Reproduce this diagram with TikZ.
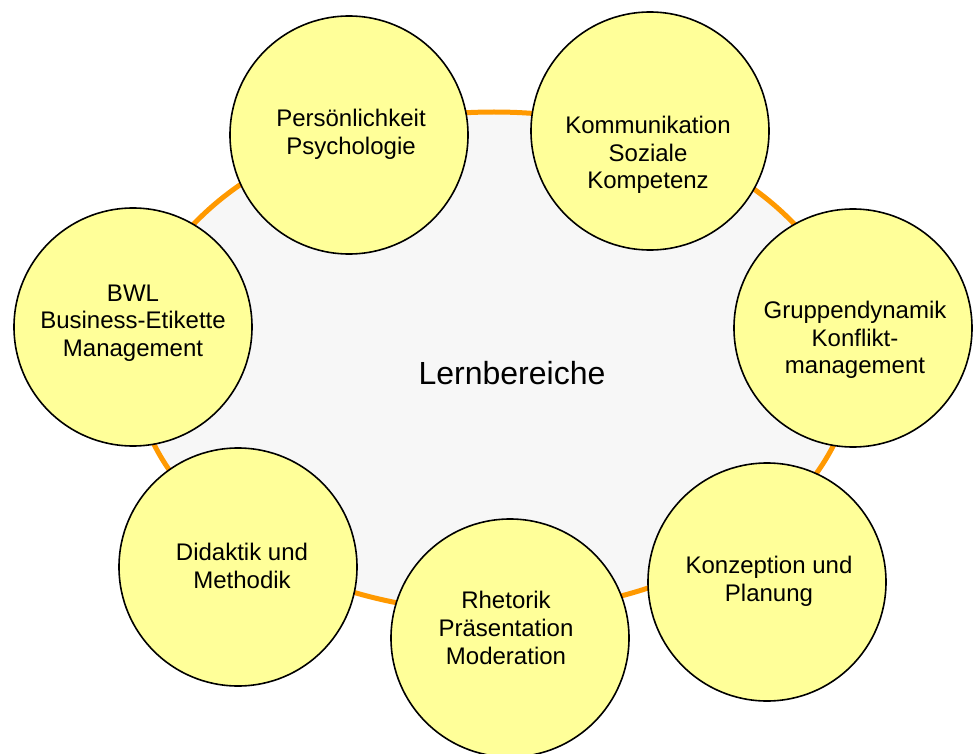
\documentclass[tikz,border=0pt]{standalone}
\usepackage{fontspec}
\setmainfont{Liberation Sans}
\usetikzlibrary{shapes.geometric}
\definecolor{ringorange}{HTML}{FF9900}
\definecolor{areafill}{HTML}{F7F7F7}
\definecolor{bubblefill}{HTML}{FFFF99}
\tikzset{
  bubble/.style={circle, draw=black, line width=1.6pt, fill=bubblefill, minimum size=238pt, inner sep=0pt},
  bubbletext/.style={align=center, font=\fontsize{24}{27.6}\selectfont, inner sep=0pt},
  ring/.style={draw=ringorange, line width=5pt, fill=areafill}
}
\begin{document}
\begin{tikzpicture}[x=1pt,y=-1pt]
\useasboundingbox (0,0) rectangle (980,754);
\fill[white] (0,0) rectangle (980,754);
\node[ring, ellipse, minimum width=720pt, minimum height=500pt, inner sep=0pt] (area) at (494,362) {};
\node[font=\fontsize{32}{36}\selectfont] (title) at (512,373) {Lernbereiche};

\node[bubble] (pers) at (349,135) {};
\node[bubble] (komm) at (650,131) {};
\node[bubble] (grupp) at (853,328) {};
\node[bubble] (konz) at (767,582) {};
\node[bubble] (rhet) at (510,638) {};
\node[bubble] (dida) at (238,567) {};
\node[bubble] (bwl) at (133,327) {};

\node[bubbletext] (perst) at (351,134) {Persönlichkeit\\Psychologie};
\node[bubbletext] (kommt) at (648,155) {Kommunikation\\Soziale\\Kompetenz};
\node[bubbletext] (gruppt) at (855,340) {Gruppendynamik\\Konflikt-\\management};
\node[bubbletext] (konzt) at (769,581) {Konzeption und\\Planung};
\node[bubbletext] (rhett) at (506,628) {Rhetorik\\Präsentation\\Moderation};
\node[bubbletext] (didat) at (242,566) {Didaktik und\\Methodik};
\node[bubbletext] (bwlt) at (133,323) {BWL\\Business-Etikette\\Management};
\end{tikzpicture}
\end{document}
